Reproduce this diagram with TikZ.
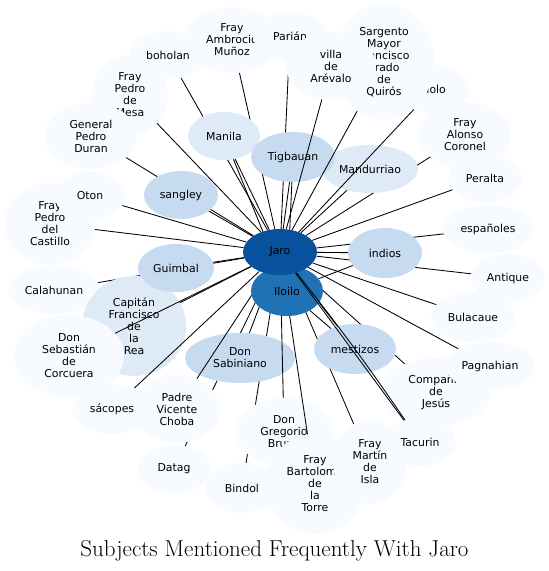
\documentclass[tikz,border=0pt]{standalone}
\usepackage{fontspec}
\usetikzlibrary{shapes.geometric}
\newfontfamily\dvs{DejaVu Sans}
\definecolor{bA}{HTML}{F7FBFF}
\definecolor{bB}{HTML}{DEEBF7}
\definecolor{bC}{HTML}{C6DBEF}
\definecolor{bG}{HTML}{2171B5}
\definecolor{bH}{HTML}{08519C}
\pgfdeclarelayer{edgeback}
\pgfdeclarelayer{edgefront}
\pgfdeclarelayer{hub}
\pgfdeclarelayer{edgetop}
\pgfsetlayers{edgeback,main,edgefront,hub,edgetop}
\tikzset{
  nd/.style={ellipse, inner sep=0pt, align=center, text=black, draw=none,
    font=\dvs\fontsize{10.9}{12}\selectfont},
  pa/.style={nd, fill=bA},
  pb/.style={nd, fill=bB},
  pc/.style={nd, fill=bC},
  sz/.style 2 args={minimum width=#1, minimum height=#2},
  lnk/.style={draw=black, line width=0.85pt}
}
\begin{document}
\begin{tikzpicture}[x=1pt,y=-1pt]
\useasboundingbox (0,0) rectangle (549,571);
% peripheral nodes (drawing order matters)
\node[pa, sz={76pt}{48pt}] (boholan) at (168,55) {boholan};
\node[pa, sz={96pt}{66pt}] (ambrocio) at (232,40) {Fray\\Ambrocio\\Muñoz};
\node[pa, sz={74pt}{48pt}] (parian) at (290,36) {Parián};
\node[pa, sz={76pt}{80pt}] (mesa) at (130,95) {Fray\\Pedro\\de\\Mesa};
\node[pa, sz={92pt}{66pt}] (duran) at (91,136) {General\\Pedro\\Duran};
\node[pa, sz={72pt}{48pt}] (molo) at (433,89) {Molo};
\node[pa, sz={100pt}{116pt}] (sargento) at (384,62) {Sargento\\Mayor\\Francisco\\Prado\\de\\Quirós};
\node[pa, sz={90pt}{68pt}] (villa) at (331,66) {villa\\de\\Arévalo};
\node[pa, sz={92pt}{66pt}] (coronel) at (465,135) {Fray\\Alonso\\Coronel};
\node[pa, sz={74pt}{48pt}] (peralta) at (485,178) {Peralta};
\node[pa, sz={90pt}{82pt}] (castillo) at (50,224) {Fray\\Pedro\\del\\Castillo};
\node[pa, sz={70pt}{48pt}] (oton) at (90,196) {Oton};
\node[pa, sz={92pt}{48pt}] (calahunan) at (54,290) {Calahunan};
\node[pb, sz={104pt}{100pt}] (rea) at (134,326) {Capitán\\Francisco\\de\\la\\Rea};
\node[pa, sz={110pt}{82pt}] (corcuera) at (69,356) {Don\\Sebastián\\de\\Corcuera};
\node[pa, sz={80pt}{50pt}] (sacopes) at (112,409) {sácopes};
\node[pa, sz={86pt}{68pt}] (choba) at (177,409) {Padre\\Vicente\\Choba};
\node[pa, sz={74pt}{48pt}] (datag) at (174,469) {Datag};
\node[pa, sz={74pt}{50pt}] (bindol) at (242,488) {Bindol};
\node[pa, sz={96pt}{68pt}] (gregorio) at (284,432) {Don\\Gregorio\\Bruno};
\node[pa, sz={100pt}{100pt}] (torre) at (315,484) {Fray\\Bartolomé\\de\\la\\Torre};
\node[pa, sz={74pt}{84pt}] (isla) at (370,462) {Fray\\Martín\\de\\Isla};
\node[pa, sz={72pt}{48pt}] (tacurin) at (420,442) {Tacurin};
\node[pa, sz={110pt}{68pt}] (compania) at (436,392) {Compañía\\de\\Jesús};
\node[pa, sz={90pt}{48pt}] (pagnahian) at (490,366) {Pagnahian};
\node[pa, sz={84pt}{50pt}] (bulacaue) at (473,317) {Bulacaue};
\node[pa, sz={74pt}{48pt}] (antique) at (508,278) {Antique};
\node[pa, sz={90pt}{48pt}] (espanoles) at (488,229) {españoles};
\node[pb, sz={72pt}{48pt}] (manila) at (224,136) {Manila};
\node[pb, sz={96pt}{48pt}] (mandurriao) at (370,169) {Mandurriao};
\node[pc, sz={84pt}{50pt}] (tigbauan) at (293,157) {Tigbauan};
\node[pc, sz={74pt}{48pt}] (sangley) at (181,195) {sangley};
\node[pc, sz={76pt}{48pt}] (guimbal) at (176,268) {Guimbal};
\node[pc, sz={74pt}{50pt}] (indios) at (385,253) {indios};
\node[pc, sz={82pt}{50pt}] (mestizos) at (355,349) {mestizos};
\node[pc, sz={110pt}{50pt}] (sabiniano) at (240,358) {Don\\Sabiniano};
% hub nodes
\begin{pgfonlayer}{hub}
\node[nd, fill=bG, sz={72pt}{50pt}] (iloilo) at (287,291) {Iloilo};
\node[nd, fill=bH, sz={74pt}{46pt}] (jaro) at (280,252) {Jaro};
\end{pgfonlayer}
% title
\node[anchor=base, font=\fontsize{23}{26}\selectfont] (title) at (274.5,556) {Subjects Mentioned Frequently With Jaro};
% edges hidden under intermediate nodes
\begin{pgfonlayer}{edgeback}
\foreach \n in {boholan,ambrocio,parian,duran,calahunan,datag,bindol,isla,compania,antique,espanoles,coronel}
  \draw[lnk] (\n) -- (jaro);
\end{pgfonlayer}
% edges drawn over peripheral nodes
\begin{pgfonlayer}{edgefront}
\foreach \n in {mesa,manila,tigbauan,villa,sargento,molo,mandurriao,peralta,sangley,oton,castillo,guimbal,rea,corcuera,sacopes,choba,sabiniano,gregorio,torre,mestizos,pagnahian,bulacaue,indios}
  \draw[lnk] (\n) -- (jaro);
\foreach \n in {manila,tigbauan,indios,mestizos}
  \draw[lnk] (\n) -- (iloilo);
\end{pgfonlayer}
% edges drawn over the hub
\begin{pgfonlayer}{edgetop}
\draw[lnk] (jaro) -- (tacurin);
\draw[lnk] (jaro) to[bend left=2] (tacurin);
\end{pgfonlayer}
\end{tikzpicture}
\end{document}
